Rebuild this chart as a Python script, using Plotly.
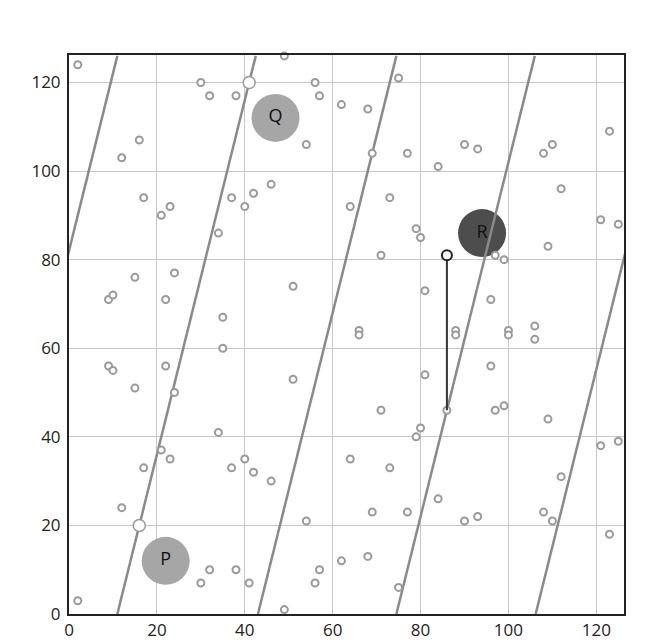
import plotly.graph_objects as go

# small scatter points (x, y)
pts_x = [2, 30, 32, 38, 49, 56, 57, 62, 68, 75, 54, 69, 77, 84, 90, 93, 108, 110, 123,
         12, 16, 17, 21, 23, 37, 40, 42, 46, 34, 64, 73, 79, 80, 71, 112, 121, 125, 109,
         97, 99, 96, 15, 24, 9, 10, 22, 35, 51, 81, 66, 66, 88, 88, 100, 100, 106, 106,
         35, 9, 10, 22, 15, 24, 51, 81, 96, 71, 86, 97, 99, 109, 34, 80, 79, 121, 125,
         21, 23, 17, 40, 37, 42, 46, 64, 73, 112, 12, 54, 69, 77, 84, 90, 93, 108, 110,
         123, 32, 38, 30, 41, 57, 56, 62, 68, 75, 49, 2]
pts_y = [124, 120, 117, 117, 126, 120, 117, 115, 114, 121, 106, 104, 104, 101, 106, 105, 104, 106, 109,
         103, 107, 94, 90, 92, 94, 92, 95, 97, 86, 92, 94, 87, 85, 81, 96, 89, 88, 83,
         81, 80, 71, 76, 77, 71, 72, 71, 67, 74, 73, 64, 63, 64, 63, 64, 63, 65, 62,
         60, 56, 55, 56, 51, 50, 53, 54, 56, 46, 46, 46, 47, 44, 41, 42, 40, 38, 39,
         37, 35, 33, 35, 33, 32, 30, 35, 33, 31, 24, 21, 23, 23, 26, 21, 22, 23, 21,
         18, 10, 10, 7, 7, 10, 7, 12, 13, 6, 1, 3]

# parallel lines: x where each crosses y=0 and y=126
line_x_bottom = [-20.5, 11, 43, 74.5, 106.2]
line_x_top = [11, 42.5, 74.5, 106, 137.7]
line_y_ends = [0, 126]

# highlighted white points on the lines
white_x = [16, 41]
white_y = [20, 120]

# vertical segment
seg_x = [86, 86]
seg_y = [81, 46]

# big labelled circles
big_labels = ["P", "Q", "R"]
big_x = [22, 47, 94]
big_y = [12, 112, 86]
big_colors = ["#a6a6a6", "#a6a6a6", "#4d4d4d"]

fig = go.Figure()

fig.add_trace(go.Scatter(
    x=big_x, y=big_y, mode="markers+text", text=big_labels,
    textposition="middle center",
    textfont=dict(size=18, color="#111", family="Open Sans"),
    marker=dict(size=48, color=big_colors, line=dict(width=0)),
    hoverinfo="skip", cliponaxis=False))

for xb, xt in zip(line_x_bottom, line_x_top):
    fig.add_trace(go.Scatter(
        x=[xb, xt], y=line_y_ends, mode="lines",
        line=dict(color="#8a8a8a", width=2.5), hoverinfo="skip"))

fig.add_trace(go.Scatter(
    x=pts_x, y=pts_y, mode="markers",
    marker=dict(size=7, color="white", line=dict(color="#9a9a9a", width=2)),
    cliponaxis=False))

fig.add_trace(go.Scatter(
    x=seg_x, y=seg_y, mode="lines",
    line=dict(color="#333", width=2)))

fig.add_trace(go.Scatter(
    x=white_x, y=white_y, mode="markers",
    marker=dict(size=12, color="white", line=dict(color="#9a9a9a", width=1.5)),
    cliponaxis=False))

fig.add_trace(go.Scatter(
    x=seg_x[:1], y=seg_y[:1], mode="markers",
    marker=dict(size=10, color="white", line=dict(color="#222", width=2)),
    cliponaxis=False))

tick_vals = [0, 20, 40, 60, 80, 100, 120]
axis_common = dict(
    tickvals=tick_vals, ticktext=[str(v) for v in tick_vals],
    showgrid=True, gridcolor="#c8c8c8", gridwidth=1,
    showline=True, linecolor="#222", linewidth=2, mirror=True,
    zeroline=False, ticks="", automargin=False,
    tickfont=dict(size=17, color="#222", family="Open Sans"),
)

fig.update_layout(
    width=644, height=635,
    margin=dict(l=61, r=28, t=47, b=29),
    plot_bgcolor="white", paper_bgcolor="white",
    showlegend=False,
    xaxis=dict(range=[0, 126.3], ticklabelstandoff=0, **axis_common),
    yaxis=dict(range=[0, 126.2], ticklabelstandoff=3, **axis_common),
)

fig.write_html("out.html")
